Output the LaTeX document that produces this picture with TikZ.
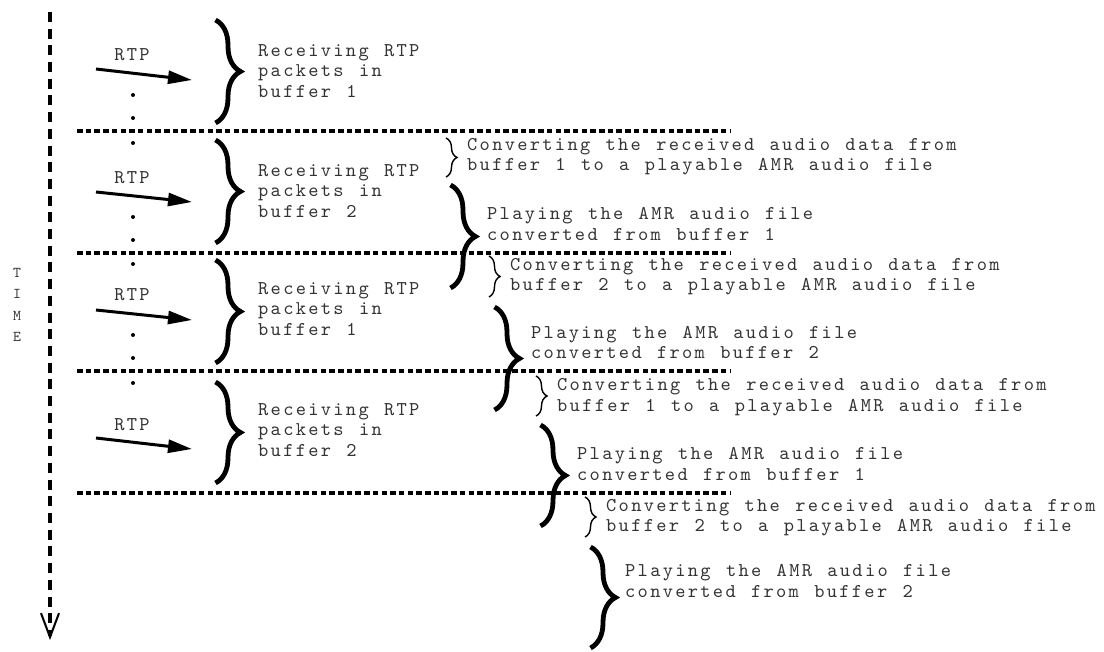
\documentclass[tikz,border=0pt]{standalone}
\usepackage{fontspec}
\usetikzlibrary{arrows.meta, decorations.pathreplacing}

\newfontfamily\courlm{lmmono10-regular.otf}[LetterSpace=11.8, WordSpace=1.226]
\newcommand{\cour}[1]{\courlm\fontsize{#1}{20.5}\selectfont}

\begin{document}
\begin{tikzpicture}[x=1pt, y=-1pt,
  lbl/.style={font=\cour{19.5}, text=black!80, inner sep=0pt, align=left, anchor=west},
  rtp/.style={font=\cour{19.5}, text=black!80, inner sep=0pt},
  tlbl/.style={font=\courlm\fontsize{15}{21.5}\selectfont, text=black!80, inner sep=0pt, align=center},
  bigbrace/.style={decorate, decoration={brace, amplitude=25pt}, line width=4.8pt},
  smallbrace/.style={decorate, decoration={brace, amplitude=11pt}, line width=1.4pt},
  sep/.style={line width=3.5pt, dash pattern=on 5.5pt off 3.2pt},
  pkt/.style={line width=3pt, -{Triangle[length=24pt,width=13pt]}},
  timeaxis/.style={line width=3.5pt, dash pattern=on 10pt off 6.7pt,
    -{Straight Barb[length=24pt,width=18pt,line width=2pt]}},
]
  \useasboundingbox (0,0) rectangle (1104,652);

  % time axis
  \coordinate (ttop) at (50,12);
  \coordinate (tbot) at (50,640);
  \draw[timeaxis] (ttop) -- (tbot);
  \node[tlbl] (time) at (17,305) {T\\I\\M\\E};

  % separators
  \draw[sep] (77,131) -- (731,131);
  \draw[sep] (77,253) -- (731,253);
  \draw[sep] (77,371) -- (731,371);
  \draw[sep] (77,493) -- (731,493);

  % buffer 1
  \node[rtp] (rtp1) at (132,55) {RTP};
  \coordinate (p1s) at (96,69);
  \coordinate (p1e) at (192,80);
  \draw[pkt] (p1s) -- (p1e);
  \fill (133,95) circle (2);
  \fill (133,118) circle (2);
  \fill (133,143) circle (2);
  \draw[bigbrace] (215.5,20) -- (215.5,123);
  \node[lbl] (recv1) at (258,71) {Receiving RTP\\packets in\\buffer 1};

  % buffer 2
  \node[rtp] (rtp2) at (132,178) {RTP};
  \coordinate (p2s) at (96,192);
  \coordinate (p2e) at (192,202);
  \draw[pkt] (p2s) -- (p2e);
  \fill (133,217) circle (2);
  \fill (133,240) circle (2);
  \fill (133,264) circle (2);
  \draw[bigbrace] (215.5,140) -- (215.5,243);
  \node[lbl] (recv2) at (258,191) {Receiving RTP\\packets in\\buffer 2};

  % buffer 1 again
  \node[rtp] (rtp3) at (132,295) {RTP};
  \coordinate (p3s) at (96,310);
  \coordinate (p3e) at (192,320);
  \draw[pkt] (p3s) -- (p3e);
  \fill (133,335) circle (2);
  \fill (133,358) circle (2);
  \fill (133,383) circle (2);
  \draw[bigbrace] (215.5,260) -- (215.5,363);
  \node[lbl] (recv3) at (258,309) {Receiving RTP\\packets in\\buffer 1};

  % buffer 2 again
  \node[rtp] (rtp4) at (132,425) {RTP};
  \coordinate (p4s) at (96,438);
  \coordinate (p4e) at (192,449);
  \draw[pkt] (p4s) -- (p4e);
  \draw[bigbrace] (215.5,382) -- (215.5,483);
  \node[lbl] (recv4) at (258,430) {Receiving RTP\\packets in\\buffer 2};

  % converting / playing
  \draw[smallbrace] (446,138) -- (446,177);
  \node[lbl] (conv1) at (467,156.5) {Converting the received audio data from\\buffer 1 to a playable AMR audio file};
  \draw[bigbrace] (450.5,185) -- (450.5,288);
  \node[lbl] (play1) at (487,224) {Playing the AMR audio file\\converted from buffer 1};

  \draw[smallbrace] (489,256) -- (489,297);
  \node[lbl] (conv2) at (510,276.5) {Converting the received audio data from\\buffer 2 to a playable AMR audio file};
  \draw[bigbrace] (494.5,307) -- (494.5,410);
  \node[lbl] (play2) at (531,342.5) {Playing the AMR audio file\\converted from buffer 2};

  \draw[smallbrace] (536,376) -- (536,416);
  \node[lbl] (conv3) at (557,397) {Converting the received audio data from\\buffer 1 to a playable AMR audio file};
  \draw[bigbrace] (540.5,425) -- (540.5,526);
  \node[lbl] (play3) at (577,464) {Playing the AMR audio file\\converted from buffer 1};

  \draw[smallbrace] (585,497) -- (585,537);
  \node[lbl] (conv4) at (606,517.5) {Converting the received audio data from\\buffer 2 to a playable AMR audio file};
  \draw[bigbrace] (590.5,547) -- (590.5,648);
  \node[lbl] (play4) at (625,581) {Playing the AMR audio file\\converted from buffer 2};
\end{tikzpicture}
\end{document}
